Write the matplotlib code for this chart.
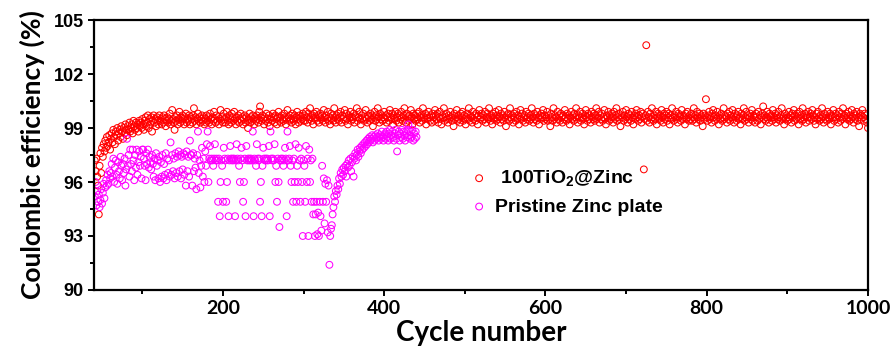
import matplotlib
matplotlib.use('agg')
import matplotlib.pyplot as plt
from matplotlib.ticker import MultipleLocator

# cycle range of each series
tio2_start = 41
zinc_start = 41

# coulombic efficiency (%) of the 100TiO2@Zinc cell, one value per cycle from 41 to 1000
tio2_ce = [
    97.2, 96.6, 97.3, 96.3, 95.8, 94.2, 96.9, 97.6, 96.5, 97.9, 97.4, 98.1, 97.7, 98.3, 97.9, 98.5, 98.0, 98.2, 98.6, 97.8,
    98.4, 98.7, 98.2, 98.9, 98.5, 98.1, 98.8, 98.6, 99.0, 98.3, 98.7, 98.9, 98.5, 99.1, 98.8, 98.4, 99.0, 98.7, 99.2, 98.9,
    98.6, 99.1, 98.9, 99.3, 98.8, 99.0, 99.2, 98.7, 99.4, 99.1, 98.9, 99.3, 99.0, 99.2, 98.8, 99.4, 99.1, 99.3, 99.0, 99.5,
    99.2, 98.9, 99.4, 99.6, 99.1, 99.3, 99.7, 99.0, 99.5, 99.2, 99.6, 98.8, 99.4, 99.7, 99.3, 99.5, 99.1, 99.6, 99.4, 99.2,
    99.7, 99.4, 99.5, 99.2, 99.6, 99.3, 99.7, 99.5, 99.1, 99.4, 99.6, 99.3, 99.5, 99.8, 99.2, 99.4, 100.0, 99.5, 99.3, 98.9,
    99.6, 99.4, 99.7, 99.2, 99.5, 99.9, 99.3, 99.6, 99.4, 99.7, 99.5, 99.2, 99.6, 99.8, 99.3, 99.5, 99.4, 99.7, 99.2, 99.6,
    99.5, 99.3, 99.7, 100.1, 99.4, 99.6, 99.2, 99.5, 99.8, 99.4, 99.6, 99.3, 99.5, 99.7, 99.4, 99.6, 99.2, 99.5, 99.3, 99.7,
    99.4, 99.6, 99.3, 99.8, 99.5, 99.2, 99.6, 99.4, 99.9, 99.5, 99.3, 99.7, 99.4, 99.6, 99.2, 99.5, 100.0, 99.4, 99.6, 99.3,
    99.8, 99.5, 99.3, 99.6, 99.9, 99.4, 99.2, 99.7, 99.5, 99.3, 99.8, 99.6, 99.4, 99.9, 99.5, 99.2, 99.6, 99.4, 99.7, 99.3,
    99.5, 99.8, 99.4, 99.6, 99.2, 99.5, 99.7, 99.3, 99.6, 99.4, 99.0, 99.5, 99.8, 99.3, 99.6, 99.4, 99.7, 99.5, 99.2, 99.6,
    99.4, 99.7, 99.5, 99.3, 99.9, 100.2, 99.6, 99.4, 99.7, 99.5, 99.2, 99.6, 99.4, 99.8, 99.5, 99.3, 99.7, 99.1, 99.5, 99.6,
    99.4, 99.8, 99.6, 99.3, 99.7, 99.5, 99.2, 99.6, 99.9, 99.4, 99.6, 99.3, 99.7, 99.5, 99.4, 99.8, 99.6, 99.2, 99.5, 100.0,
    99.6, 99.4, 99.7, 99.5, 99.3, 99.8, 99.5, 99.4, 99.7, 99.2, 99.6, 99.9, 99.5, 99.3, 99.7, 99.4, 99.6, 99.5, 99.8, 99.4,
    99.7, 99.4, 99.9, 99.6, 99.3, 99.8, 99.5, 100.1, 99.6, 99.4, 99.7, 99.2, 99.8, 99.5, 99.6, 99.9, 99.4, 99.7, 99.3, 99.6,
    99.8, 99.5, 99.7, 99.4, 100.0, 99.6, 99.3, 99.7, 99.5, 99.9, 99.4, 99.6, 99.2, 99.8, 99.5, 99.7, 99.4, 100.1, 99.6, 99.3,
    99.7, 99.5, 99.8, 99.4, 99.6, 99.9, 99.3, 99.7, 99.5, 99.6, 100.0, 99.4, 99.8, 99.5, 99.2, 99.7, 99.6, 99.9, 99.4, 99.6,
    99.5, 99.8, 99.3, 99.7, 99.6, 100.1, 99.4, 99.6, 99.9, 99.5, 99.2, 99.7, 99.5, 99.8, 99.4, 99.6, 100.0, 99.5, 99.3, 99.7,
    99.6, 99.4, 99.8, 99.5, 99.7, 99.1, 99.6, 99.9, 99.4, 99.7, 99.5, 100.1, 99.6, 99.3, 99.8, 99.5, 99.7, 99.4, 99.6, 99.9,
    99.5, 99.7, 99.3, 99.6, 99.8, 99.4, 100.0, 99.6, 99.5, 99.8, 99.2, 99.7, 99.5, 99.9, 99.4, 99.6, 99.8, 99.3, 99.7, 99.5,
    99.9, 99.6, 99.4, 99.7, 100.1, 99.5, 99.3, 99.8, 99.6, 99.4, 99.7, 99.5, 100.0, 99.6, 99.2, 99.8, 99.5, 99.7, 99.4, 99.6,
    99.8, 99.5, 99.9, 99.3, 99.6, 99.7, 99.4, 100.1, 99.6, 99.5, 99.8, 99.2, 99.7, 99.5, 99.9, 99.6, 99.4, 99.7, 99.3, 99.8,
    99.6, 99.4, 100.0, 99.7, 99.5, 99.8, 99.3, 99.6, 99.9, 99.5, 99.2, 99.7, 99.6, 100.1, 99.4, 99.6, 99.8, 99.5, 99.3, 99.7,
    99.5, 99.9, 99.6, 99.4, 99.7, 99.1, 99.8, 99.5, 99.6, 100.0, 99.4, 99.7, 99.5, 99.3, 99.8, 99.6, 99.9, 99.4, 99.7, 99.5,
    99.2, 99.6, 99.8, 99.5, 100.1, 99.4, 99.7, 99.6, 99.3, 99.9, 99.5, 99.7, 99.4, 99.8, 99.6, 99.2, 99.7, 100.0, 99.5, 99.6,
    99.8, 99.4, 99.7, 99.5, 99.9, 99.3, 99.6, 99.8, 99.5, 100.1, 99.6, 99.4, 99.7, 99.2, 99.8, 99.5, 99.6, 99.9, 99.4, 99.7,
    99.5, 100.0, 99.6, 99.3, 99.8, 99.5, 99.7, 99.4, 99.9, 99.6, 99.1, 99.7, 99.5, 99.8, 99.4, 100.1, 99.6, 99.5, 99.7, 99.3,
    99.8, 99.6, 99.4, 99.9, 99.5, 99.7, 99.2, 99.6, 100.0, 99.5, 99.8, 99.4, 99.6, 99.7, 99.3, 99.9, 99.5, 99.6, 99.8, 99.4,
    99.7, 99.5, 100.1, 99.6, 99.3, 99.8, 99.5, 99.7, 99.4, 99.9, 99.6, 99.2, 99.7, 99.5, 99.8, 99.6, 100.0, 99.4, 99.7, 99.5,
    99.6, 99.9, 99.4, 99.7, 99.5, 99.1, 99.8, 99.6, 99.4, 100.1, 99.5, 99.7, 99.6, 99.3, 99.9, 99.5, 99.7, 99.4, 99.8, 99.6,
    99.3, 99.7, 99.5, 100.0, 99.6, 99.4, 99.8, 99.5, 99.7, 99.2, 99.6, 99.9, 99.5, 99.7, 99.4, 99.8, 99.6, 100.1, 99.5, 99.3,
    99.7, 99.6, 99.9, 99.4, 99.6, 99.8, 99.5, 99.2, 99.7, 100.0, 99.6, 99.4, 99.8, 99.5, 99.7, 99.3, 99.9, 99.6, 99.5, 99.8,
    99.4, 99.7, 100.1, 99.5, 99.6, 99.9, 99.3, 99.7, 99.5, 99.8, 99.4, 99.6, 100.0, 99.5, 99.2, 99.7, 99.6, 99.9, 99.4, 99.7,
    99.5, 99.8, 99.6, 99.3, 99.9, 99.5, 99.7, 100.1, 99.4, 99.6, 99.8, 99.5, 99.1, 99.7, 99.6, 99.9, 99.4, 99.7, 99.5, 100.0,
    99.6, 99.3, 99.8, 99.5, 99.7, 99.4, 99.9, 99.6, 99.2, 99.7, 99.5, 99.8, 100.0, 99.6, 99.4, 99.7, 99.5, 99.9, 99.3, 99.6,
    99.8, 96.7, 99.5, 99.7, 103.6, 99.4, 99.9, 99.6, 99.3, 99.8, 99.5, 100.1, 99.6, 99.4, 99.7, 99.5, 99.9, 99.2, 99.6, 99.8,
    99.5, 99.7, 99.4, 100.0, 99.6, 99.3, 99.8, 99.5, 99.7, 99.9, 99.4, 99.6, 99.8, 99.2, 99.7, 99.5, 100.1, 99.6, 99.4, 99.7,
    99.6, 99.9, 99.5, 99.3, 99.8, 99.6, 99.7, 99.4, 100.0, 99.5, 99.7, 99.6, 99.2, 99.8, 99.5, 99.9, 99.6, 99.4, 99.7, 99.5,
    99.8, 99.4, 99.6, 100.1, 99.5, 99.7, 99.3, 99.9, 99.6, 99.5, 99.8, 99.4, 99.7, 99.6, 99.1, 99.8, 99.5, 99.7, 100.6, 99.6,
    99.4, 99.7, 99.9, 99.5, 99.6, 99.3, 99.8, 100.0, 99.6, 99.4, 99.7, 99.5, 99.9, 99.6, 99.2, 99.7, 99.5, 99.8, 99.4, 99.6,
    100.1, 99.5, 99.7, 99.6, 99.3, 99.8, 99.5, 99.9, 99.4, 99.7, 99.6, 100.0, 99.5, 99.3, 99.8, 99.6, 99.4, 99.7, 99.9, 99.5,
    99.6, 99.2, 99.8, 99.5, 99.7, 100.1, 99.4, 99.6, 99.9, 99.5, 99.7, 99.3, 99.6, 99.8, 99.5, 100.0, 99.4, 99.7, 99.6, 99.3,
    99.8, 99.6, 99.4, 99.9, 99.5, 99.7, 99.2, 99.6, 99.8, 100.2, 99.5, 99.7, 99.4, 99.6, 99.9, 99.5, 99.3, 99.8, 99.6, 99.7,
    99.4, 100.0, 99.6, 99.5, 99.8, 99.3, 99.7, 99.5, 99.9, 99.6, 99.4, 99.7, 100.1, 99.5, 99.6, 99.2, 99.8, 99.5, 99.7, 99.4,
    99.6, 99.9, 99.5, 99.7, 99.3, 99.8, 99.6, 100.0, 99.4, 99.7, 99.5, 99.8, 99.6, 99.2, 99.9, 99.5, 99.7, 99.4, 100.1, 99.6,
    99.5, 99.8, 99.3, 99.7, 99.6, 99.9, 99.4, 99.6, 99.8, 99.5, 100.0, 99.7, 99.4, 99.6, 99.2, 99.8, 99.5, 99.9, 99.6, 99.4,
    99.7, 99.5, 100.1, 99.6, 99.3, 99.8, 99.5, 99.7, 99.4, 99.9, 99.6, 99.5, 99.8, 99.2, 99.7, 99.6, 100.0, 99.4, 99.6, 99.8,
    99.5, 99.7, 99.3, 99.9, 99.6, 99.4, 99.8, 99.5, 100.1, 99.6, 99.7, 99.2, 99.8, 99.5, 99.6, 99.9, 99.4, 99.7, 99.5, 100.0,
    99.6, 99.3, 99.8, 99.5, 99.7, 99.9, 99.4, 99.6, 99.1, 99.8, 99.5, 99.7, 100.0, 99.6, 99.4, 99.8, 99.5, 99.7, 99.3, 99.0,
]

# coulombic efficiency (%) of the pristine zinc plate, one value per cycle from 41 to 440
zinc_ce = [
    95.2, 96.0, 94.7, 95.5, 94.9, 95.3, 94.6, 95.0, 95.6, 94.8, 95.4, 95.9, 95.1, 95.7, 96.1, 95.8, 96.4, 95.9, 96.6, 96.2,
    96.5, 97.0, 96.3, 97.3, 96.0, 96.8, 97.2, 96.4, 95.9, 97.1, 96.6, 96.2, 97.4, 96.9, 96.1, 97.0, 96.5, 97.3, 95.8, 96.7,
    98.4, 96.9, 97.5, 96.3, 97.8, 97.0, 96.6, 97.8, 97.2, 96.1, 97.5, 96.8, 97.8, 96.4, 97.1, 97.7, 96.9, 97.4, 96.2, 97.8,
    97.8, 97.3, 96.9, 96.1, 97.6, 97.0, 97.8, 96.8, 97.4, 97.1, 96.7, 97.5, 97.0, 96.3, 97.3, 96.1, 97.6, 96.9, 97.2, 96.2,
    97.4, 96.0, 97.1, 96.3, 97.5, 96.2, 97.0, 96.4, 97.6, 96.1, 97.3, 96.5, 97.2, 96.3, 98.2, 96.4, 97.5, 96.6, 97.3, 96.2,
    97.6, 96.5, 97.4, 96.3, 97.7, 96.6, 97.5, 96.2, 97.4, 96.7, 97.6, 96.4, 97.5, 95.8, 97.7, 96.6, 97.4, 96.3, 98.3, 97.5,
    97.5, 95.8, 97.6, 96.6, 97.3, 96.8, 95.6, 97.5, 98.8, 96.5, 97.2, 95.7, 96.9, 97.9, 96.3, 97.3, 96.0, 97.7, 96.9, 98.1,
    98.8, 96.0, 97.3, 98.0, 97.2, 97.3, 97.2, 96.9, 97.3, 98.1, 97.2, 97.3, 97.2, 94.9, 97.3, 94.1, 96.0, 97.2, 96.9, 94.9,
    97.9, 97.3, 97.2, 94.9, 96.0, 97.3, 94.1, 97.2, 98.0, 97.3, 97.2, 97.3, 97.2, 97.3, 94.1, 97.2, 98.1, 97.3, 97.2, 96.9,
    96.0, 97.3, 97.9, 97.2, 94.9, 96.0, 97.3, 94.1, 98.0, 97.2, 97.3, 97.2, 97.3, 97.2, 97.3, 97.2, 98.8, 94.1, 97.3, 97.2,
    96.9, 98.1, 97.3, 97.2, 97.3, 94.9, 96.0, 94.1, 96.9, 97.9, 97.3, 97.2, 97.3, 97.2, 97.3, 97.2, 98.0, 94.1, 98.8, 97.3,
    97.2, 97.3, 97.2, 98.1, 96.0, 96.9, 94.9, 97.3, 96.0, 93.5, 97.2, 97.3, 97.2, 97.3, 96.9, 97.2, 97.9, 97.3, 94.1, 98.8,
    97.2, 97.3, 98.0, 96.9, 96.0, 97.2, 94.9, 97.3, 96.0, 98.1, 94.9, 96.9, 96.0, 97.9, 97.2, 94.9, 97.3, 96.0, 93.0, 97.2,
    96.9, 94.9, 98.0, 96.0, 97.3, 93.0, 97.8, 96.0, 97.2, 94.9, 97.3, 94.2, 94.9, 93.0, 94.2, 94.9, 93.1, 94.3, 93.0, 94.9,
    94.1, 93.3, 96.9, 94.9, 96.2, 93.7, 95.9, 94.9, 96.1, 93.2, 95.8, 91.4, 93.0, 93.4, 93.6, 94.2, 94.6, 95.2, 94.9, 95.5,
    95.3, 95.8, 95.6, 96.2, 95.9, 96.5, 96.3, 96.7, 96.4, 96.8, 96.6, 96.9, 96.3, 97.0, 96.8, 97.2, 96.9, 97.3, 96.6, 97.1,
    97.4, 96.3, 97.3, 97.6, 97.2, 97.5, 97.8, 97.4, 97.7, 97.9, 97.6, 98.0, 97.8, 98.1, 97.9, 98.2, 98.0, 98.3, 98.1, 98.4,
    98.2, 98.5, 98.3, 98.4, 98.6, 98.2, 98.5, 98.3, 98.6, 98.4, 98.5, 98.7, 98.3, 98.5, 98.6, 98.4, 98.8, 98.5, 98.3, 98.6,
    98.7, 98.4, 98.8, 98.5, 98.3, 98.7, 98.9, 98.4, 98.6, 98.8, 98.5, 98.3, 98.7, 98.9, 98.4, 97.7, 98.6, 98.8, 98.3, 98.7,
    98.5, 98.9, 98.4, 98.8, 98.6, 98.3, 98.8, 98.5, 98.9, 99.2, 98.6, 98.4, 98.8, 98.5, 98.9, 98.3, 98.7, 98.4, 98.8, 98.5,
]

tio2_cycles = list(range(tio2_start, tio2_start + len(tio2_ce)))
zinc_cycles = list(range(zinc_start, zinc_start + len(zinc_ce)))

series_labels = [' 100TiO$_2$@Zinc', 'Pristine Zinc plate']
x_ticks = [200, 400, 600, 800, 1000]
y_ticks = [90, 93, 96, 99, 102, 105]

# Calibri-like face for the x ticks and axis titles
label_font = ['Lato', 'DejaVu Sans']

plt.rcParams['font.family'] = ['Liberation Sans', 'DejaVu Sans']
plt.rcParams['mathtext.default'] = 'regular'

fig = plt.figure(figsize=(8.94, 3.51), dpi=100)
ax = fig.add_axes([0.1051, 0.1738, 0.8658, 0.7692])

marker_kw = dict(s=24, facecolors='none', linewidths=0.75)
ax.scatter(tio2_cycles, tio2_ce, edgecolors='#ff0000', label=series_labels[0], **marker_kw)
ax.scatter(zinc_cycles, zinc_ce, edgecolors='#ff00ff', label=series_labels[1], **marker_kw)

ax.set_xlim(40, 1000)
ax.set_ylim(90, 105)
ax.set_xticks(x_ticks)
ax.set_yticks(y_ticks)
ax.xaxis.set_minor_locator(MultipleLocator(100))
ax.yaxis.set_minor_locator(MultipleLocator(1.5))

for sp in ax.spines.values():
    sp.set_linewidth(1.6)
ax.tick_params(which='major', direction='out', length=4, width=1.4, top=False, right=False)
ax.tick_params(which='minor', direction='out', length=3, width=1.4, top=False, right=False)

for lbl in ax.get_yticklabels():
    lbl.set_fontsize(13)
    lbl.set_fontweight('bold')
for lbl in ax.get_xticklabels():
    lbl.set_fontsize(14)
    lbl.set_fontweight('bold')
    lbl.set_family(label_font)

ax.set_xlabel('Cycle number', fontsize=20, fontweight='bold', family=label_font, labelpad=2)
ax.set_ylabel('Coulombic efficiency (%)', fontsize=19, fontweight='bold', family=label_font, labelpad=6)

ax.legend(loc='center left', bbox_to_anchor=(0.475, 0.363), frameon=False,
          prop={'size': 14, 'weight': 'bold'}, handlelength=1.0, handletextpad=0.3,
          labelspacing=0.5, borderaxespad=0)

fig.savefig('out.png', dpi=100)
